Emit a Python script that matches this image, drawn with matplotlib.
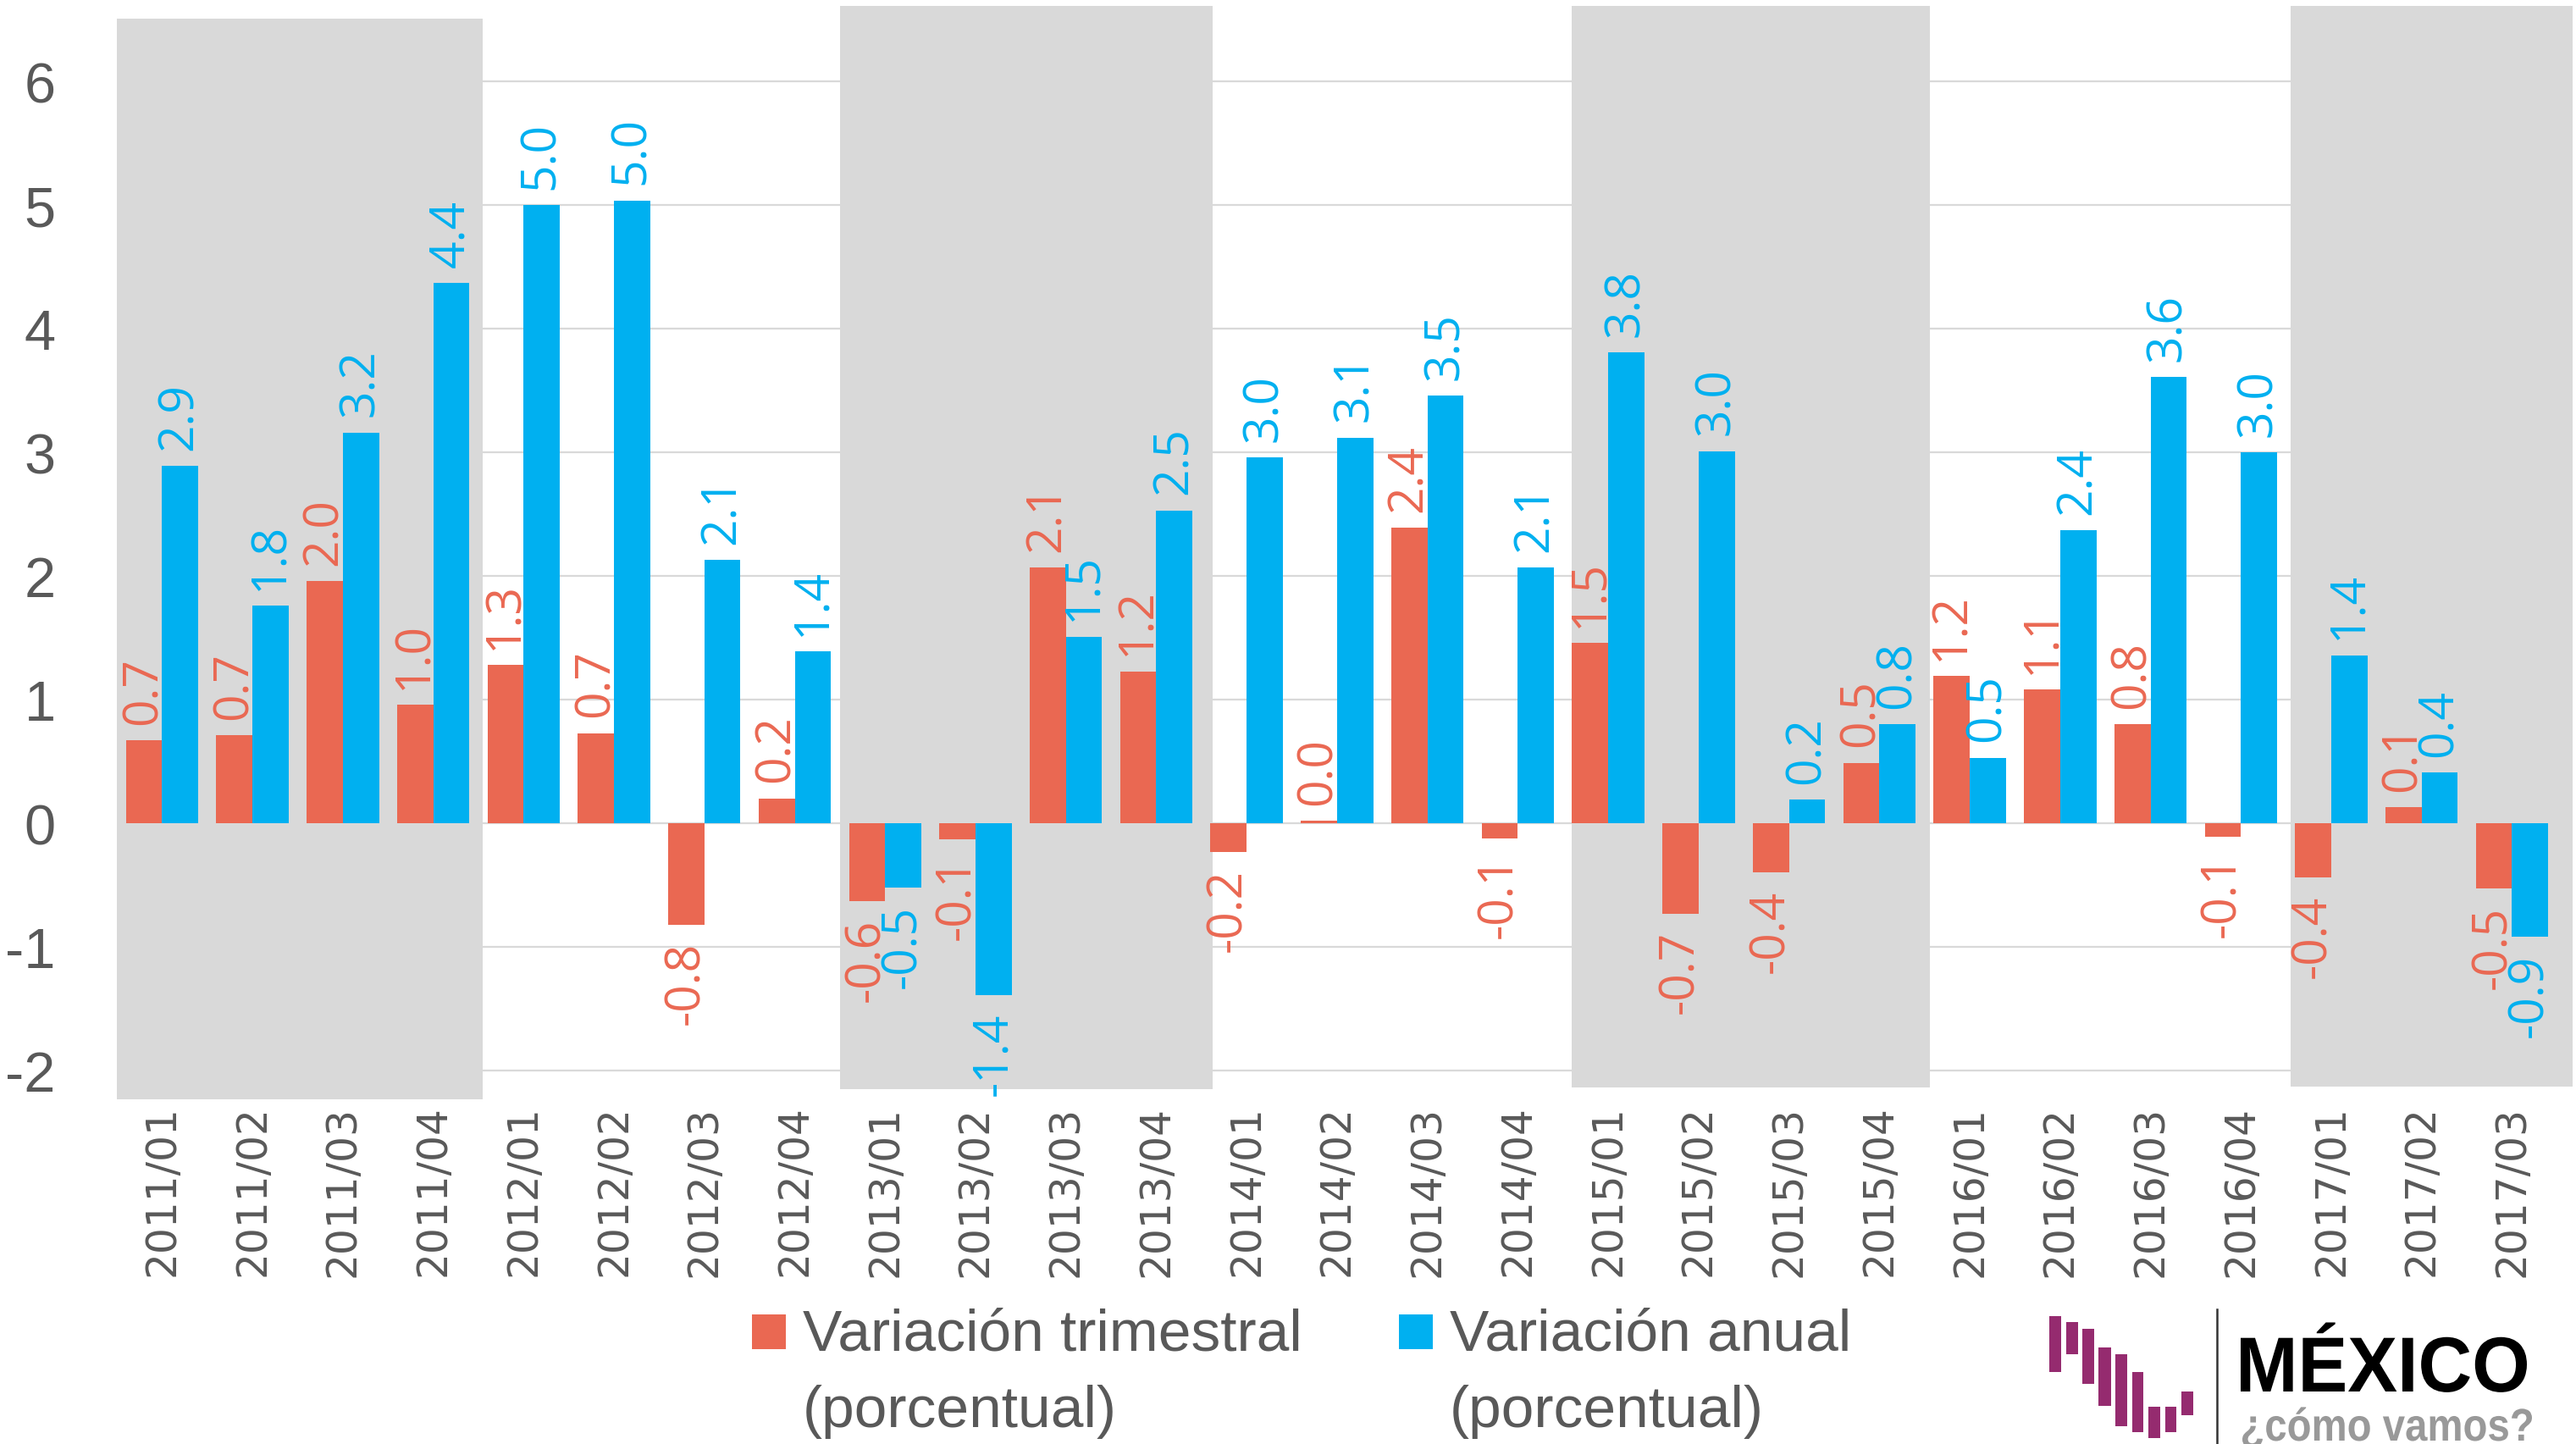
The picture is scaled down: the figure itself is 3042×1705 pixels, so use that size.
import numpy as np
import matplotlib
matplotlib.use("Agg")
import matplotlib.pyplot as plt
from matplotlib.patches import Rectangle, PathPatch
from matplotlib.lines import Line2D
from matplotlib.textpath import TextPath
from matplotlib.font_manager import FontProperties
from matplotlib.transforms import Affine2D

plt.rcParams["axes.unicode_minus"] = False

# --- data ---
quarters = ["2011/01", "2011/02", "2011/03", "2011/04",
            "2012/01", "2012/02", "2012/03", "2012/04",
            "2013/01", "2013/02", "2013/03", "2013/04",
            "2014/01", "2014/02", "2014/03", "2014/04",
            "2015/01", "2015/02", "2015/03", "2015/04",
            "2016/01", "2016/02", "2016/03", "2016/04",
            "2017/01", "2017/02", "2017/03"]
trimestral = [0.67, 0.71, 1.96, 0.96, 1.28, 0.73, -0.82, 0.20,
              -0.63, -0.13, 2.07, 1.23, -0.23, 0.02, 2.39, -0.12,
              1.46, -0.73, -0.40, 0.49, 1.19, 1.08, 0.80, -0.11,
              -0.44, 0.13, -0.53]
anual = [2.89, 1.76, 3.16, 4.37, 5.00, 5.04, 2.13, 1.39,
         -0.52, -1.39, 1.51, 2.53, 2.96, 3.12, 3.46, 2.07,
         3.81, 3.01, 0.19, 0.80, 0.53, 2.37, 3.61, 3.00,
         1.36, 0.41, -0.92]
series_names = ["Variación trimestral\n(porcentual)", "Variación anual\n(porcentual)"]
shaded_years = ["2011", "2013", "2015", "2017"]
yticks = [-2, -1, 0, 1, 2, 3, 4, 5, 6]

RED = "#EA6852"
BLUE = "#00B0F0"
GREY_TXT = "#595959"
SHADE = "#D9D9D9"

W, H, DPI = 3042, 1706, 200
fig = plt.figure(figsize=(W / DPI, H / DPI), dpi=DPI)
fig.patch.set_facecolor("white")

ax = fig.add_axes([138 / W, 1 - 1300 / H, (3038 - 138) / W, (1300 - 7) / H])
x = np.arange(len(quarters))
ax.set_xlim(-0.5, 26.67)
ax.set_ylim(-2.24, 6.62)

# grid
ax.set_yticks(yticks)
ax.yaxis.grid(True, color=SHADE, lw=0.8)
ax.set_axisbelow(True)
for s in ax.spines.values():
    s.set_visible(False)

# shaded years - the boxes in the original are hand placed, so they
# stick out a little past the year boundary (offsets in category units)
shade_extent = {"2011": (0.0, 0.05, -2.23, 6.51), "2013": (0.0, 0.12, -2.15, 6.61),
                "2015": (0.1, 0.06, -2.14, 6.61), "2017": (0.05, 0.0, -2.13, 6.61)}
for yr in shaded_years:
    idx = [i for i, q in enumerate(quarters) if q.startswith(yr)]
    dl, dr, y0, y1 = shade_extent[yr]
    x0 = idx[0] - 0.5 + dl
    x1 = idx[-1] + 0.5 + dr if idx[-1] < len(quarters) - 1 else ax.get_xlim()[1]
    ax.add_patch(Rectangle((x0, y0), x1 - x0, y1 - y0, color=SHADE, lw=0, zorder=1))

bw = 0.4
ax.bar(x - bw / 2, trimestral, bw, color=RED, zorder=2)
ax.bar(x + bw / 2, anual, bw, color=BLUE, zorder=2)

# value labels
for xs, vals, col in [(x - bw / 2, trimestral, RED), (x + bw / 2, anual, BLUE)]:
    for xi, v in zip(xs, vals):
        off = 7 if v >= 0 else -7
        ax.annotate(f"{v:.1f}", (xi, v), xytext=(0, off), textcoords="offset points",
                    rotation=90, ha="center", va="bottom" if v >= 0 else "top",
                    color=col, fontsize=20.5, family="Open Sans", zorder=3)

ax.set_xticks(x)
ax.set_xticklabels(quarters, rotation=90, fontsize=17.5, family="DejaVu Sans",
                   color=GREY_TXT, va="top")
ax.tick_params(axis="x", length=0, pad=2)
ax.tick_params(axis="y", length=0, pad=26, labelsize=24, labelcolor=GREY_TXT)
for lab in ax.get_yticklabels():
    lab.set_family("Liberation Sans")

# legend, drawn by hand to keep the square on the first line
leg_items = [(series_names[0], RED, 888), (series_names[1], BLUE, 1652)]
for name, col, lx in leg_items:
    fig.add_artist(Rectangle((lx / W, 1 - 1594 / H), 40 / W, 41 / H,
                             transform=fig.transFigure, color=col, lw=0))
    line1, line2 = name.split("\n")
    tx = (lx + 60) / W
    fig.text(tx, 1 - 1595 / H, line1, va="baseline", ha="left", fontsize=25,
             family="Liberation Sans", color=GREY_TXT)
    fig.text(tx, 1 - 1685 / H, line2, va="baseline", ha="left", fontsize=25,
             family="Liberation Sans", color=GREY_TXT)

# logo "MÉXICO ¿cómo vamos?"
PURPLE = "#952B6F"
logo_bars = [(2420, 2434, 1555, 1621), (2440, 2454, 1562, 1600), (2459, 2473, 1570, 1635),
             (2478, 2493, 1592, 1661), (2498, 2512, 1600, 1685), (2518, 2531, 1621, 1692),
             (2537, 2551, 1662, 1699), (2557, 2570, 1662, 1692), (2576, 2590, 1644, 1672)]
for bx0, bx1, by0, by1 in logo_bars:
    fig.add_artist(Rectangle((bx0 / W, 1 - by1 / H), (bx1 - bx0) / W, (by1 - by0) / H,
                             transform=fig.transFigure, color=PURPLE, lw=0))
fig.add_artist(Line2D([2618 / W, 2618 / W], [1 - 1547 / H, 0], color="#333333", lw=0.9,
                      transform=fig.transFigure))


def path_text(s, x0, x1, baseline, em_px, color, fp):
    tp = TextPath((0, 0), s, size=1, prop=fp)
    bb = tp.get_extents()
    sx = (x1 - x0) / bb.width
    tr = Affine2D().translate(-bb.x0, 0).scale(sx / W, em_px / H).translate(x0 / W, 1 - baseline / H)
    fig.add_artist(PathPatch(tp, transform=tr + fig.transFigure, fc=color, ec="none", lw=0))


bold = FontProperties(family="Liberation Sans", weight="bold")
path_text("MÉXICO", 2646, 2984, 1644, 92, "black", bold)
path_text("¿cómo vamos?", 2648, 2990, 1702, 54, "#999999", bold)

fig.savefig("out.png", dpi=DPI)
